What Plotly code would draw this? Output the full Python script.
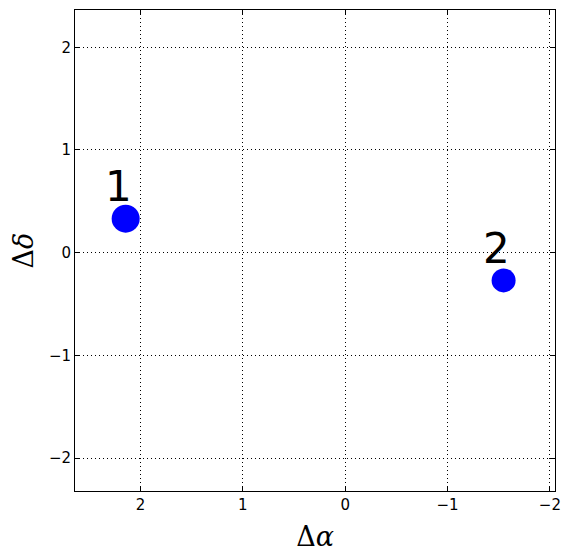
import plotly.graph_objects as go

# data
labels = ["1", "2"]
d_alpha = [2.144, -1.548]
d_delta = [0.331, -0.270]
sizes = [28, 24]

x_ticks = [2, 1, 0, -1, -2]
y_ticks = [-2, -1, 0, 1, 2]
x_range = [2.639, -2.05]
y_range = [-2.321, 2.363]

fig = go.Figure()
fig.add_trace(go.Scatter(
    x=d_alpha, y=d_delta, mode="markers",
    marker=dict(size=sizes, color="#0000ff", opacity=1, line=dict(width=0)),
    showlegend=False, hoverinfo="skip"))

for lab, xa, yd in zip(labels, d_alpha, d_delta):
    fig.add_annotation(x=xa, y=yd, text=lab, showarrow=False,
                       xanchor="center", yanchor="middle",
                       xshift=-7.5, yshift=32,
                       font=dict(family="DejaVu Sans", size=42, color="black"))

def fmt(v):
    return str(v) if v >= 0 else "\u2212" + str(-v)

axis_common = dict(
    showgrid=True, gridcolor="black", gridwidth=1, griddash="1px,3px",
    zeroline=False, showline=True, linecolor="black", linewidth=1,
    mirror="allticks", ticks="inside", ticklen=5, tickcolor="black",
    tickfont=dict(family="DejaVu Sans", size=15, color="black"),
    automargin=False,
)

fig.update_xaxes(range=x_range, tickvals=x_ticks, ticktext=[fmt(v) for v in x_ticks],
                 title=dict(text="Δ<i>α</i>", font=dict(family="DejaVu Serif", size=27, color="black"), standoff=14),
                 **axis_common)
fig.update_yaxes(range=y_range, tickvals=y_ticks, ticktext=[fmt(v) for v in y_ticks],
                 title=dict(text="Δ<i>δ</i>", font=dict(family="DejaVu Serif", size=27, color="black"), standoff=16),
                 **axis_common)

# the page body has an 8px margin; compensate so the plot area lands where the reference has it
fig.update_layout(width=564, height=550, margin=dict(l=67, r=17, t=2, b=67),
                  plot_bgcolor="white", paper_bgcolor="white")

fig.write_html("out.html")
